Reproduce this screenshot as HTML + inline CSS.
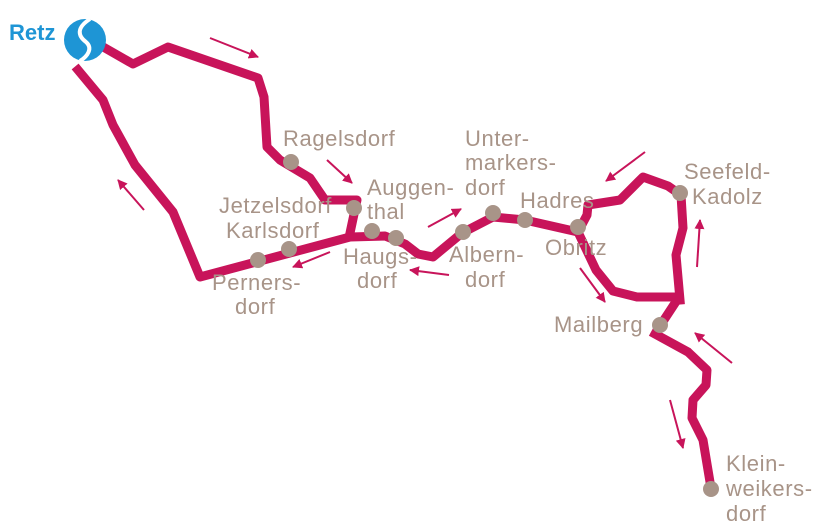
<!DOCTYPE html>
<html><head><meta charset="utf-8"><style>
html,body{margin:0;padding:0;background:#fff;}
svg{display:block;}
text{font-family:"Liberation Sans",sans-serif;font-size:22px;letter-spacing:0.6px;fill:#a89488;}
</style></head><body>
<svg width="821" height="527" viewBox="0 0 821 527" xmlns="http://www.w3.org/2000/svg">
<defs>
<marker id="ah" viewBox="0 0 10 10" refX="9" refY="5" markerWidth="5" markerHeight="5" orient="auto">
<path d="M0,0 L10,5 L0,10 z" fill="#c8145a"/></marker>
</defs>
<g fill="none" stroke="#c8145a" stroke-width="9" stroke-linejoin="round" stroke-linecap="square">
<path d="M105,48 L133,64 L168,47 L258,78 L264,97 L267,147 L280,160 L310,178 L325,200 L357,200 L350,233"/>
<path d="M78,70 L103,100 L113,125 L135,165 L173,212 L200,277 L350,237 L385,236 L405,244 L418,254 L433,257 L462,233 L493,217 L525,220 L578,232"/>
<path d="M578,232 L587,215 L588,205 L620,200 L643,177 L668,186 L681,195 L683,228 L676,255 L680,300"/>
<path d="M578,232 L596,270 L613,291 L637,297 L679,297 L660,326"/>
<path d="M655,334 L688,352 L707,370 L706,385 L693,400 L692,418 L703,440 L711,488"/>
</g>
<g stroke="#c8145a" stroke-width="2" marker-end="url(#ah)">
<line x1="210" y1="38" x2="258" y2="57"/>
<line x1="327" y1="160" x2="352" y2="183"/>
<line x1="144" y1="210" x2="118" y2="180"/>
<line x1="330" y1="252" x2="293" y2="267"/>
<line x1="428" y1="227" x2="461" y2="209"/>
<line x1="449" y1="275" x2="410" y2="270"/>
<line x1="645" y1="152" x2="606" y2="181"/>
<line x1="580" y1="268" x2="605" y2="302"/>
<line x1="697" y1="267" x2="700" y2="220"/>
<line x1="732" y1="363" x2="695" y2="333"/>
<line x1="670" y1="400" x2="683" y2="448"/>
</g>
<g fill="#a89488">
<circle cx="291" cy="162" r="8"/><circle cx="354" cy="208" r="8"/>
<circle cx="372" cy="231" r="8"/><circle cx="396" cy="238" r="8"/>
<circle cx="289" cy="249" r="8"/><circle cx="258" cy="260" r="8"/>
<circle cx="463" cy="232" r="8"/><circle cx="493" cy="213" r="8"/>
<circle cx="525" cy="220" r="8"/><circle cx="578" cy="227" r="8"/>
<circle cx="680" cy="193" r="8"/><circle cx="660" cy="325" r="8"/>
<circle cx="711" cy="489" r="8"/>
</g>
<circle cx="85" cy="40" r="21" fill="#1e95d5"/>
<path d="M90,19 C76,28 78,36 86,42 C93,48 88,56 80,61" fill="none" stroke="#fff" stroke-width="4"/>
<text x="9" y="40" style="fill:#1e95d5;font-weight:bold;font-size:22px;letter-spacing:0">Retz</text>
<text x="283" y="146">Ragelsdorf</text>
<text x="367" y="195">Auggen-</text><text x="367" y="219">thal</text>
<text x="219" y="213">Jetzelsdorf</text>
<text x="226" y="238">Karlsdorf</text>
<text x="343" y="264">Haugs-</text><text x="357" y="288">dorf</text>
<text x="212" y="290">Perners-</text><text x="235" y="314">dorf</text>
<text x="465" y="146">Unter-</text><text x="465" y="170">markers-</text><text x="465" y="195">dorf</text>
<text x="520" y="208">Hadres</text>
<text x="449" y="262">Albern-</text><text x="465" y="287">dorf</text>
<text x="545" y="255">Obritz</text>
<text x="684" y="179">Seefeld-</text><text x="692" y="204">Kadolz</text>
<text x="554" y="332">Mailberg</text>
<text x="726" y="471">Klein-</text><text x="726" y="496">weikers-</text><text x="726" y="521">dorf</text>
</svg>
</body></html>
